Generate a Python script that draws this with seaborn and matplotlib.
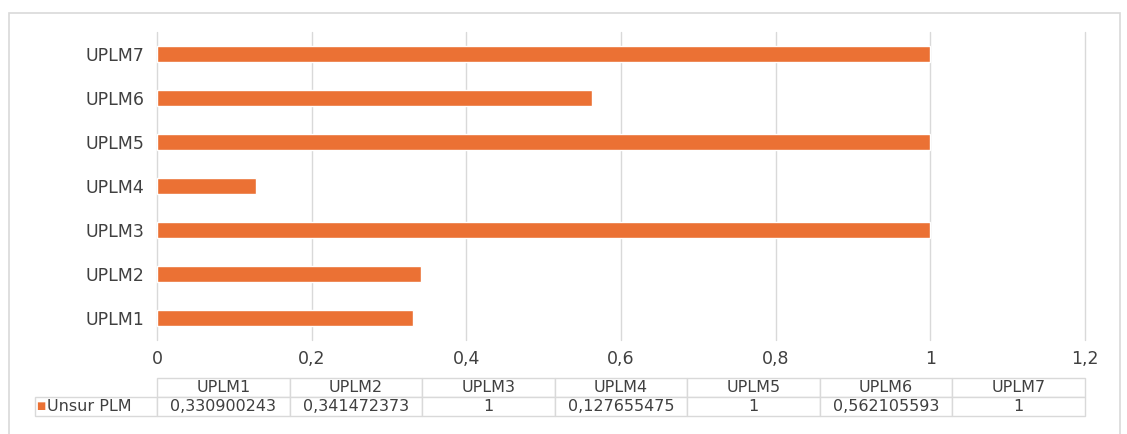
import matplotlib
matplotlib.use("Agg")
import matplotlib.pyplot as plt
from matplotlib.patches import Rectangle
import seaborn as sns
import pandas as pd

categories = ["UPLM1", "UPLM2", "UPLM3", "UPLM4", "UPLM5", "UPLM6", "UPLM7"]
values = [0.330900243, 0.341472373, 1, 0.127655475, 1, 0.562105593, 1]
value_labels = ["0,330900243", "0,341472373", "1", "0,127655475", "1", "0,562105593", "1"]
series_name = "Unsur PLM"
x_ticks = [0, 0.2, 0.4, 0.6, 0.8, 1.0, 1.2]
x_tick_labels = ["0", "0,2", "0,4", "0,6", "0,8", "1", "1,2"]

BAR_COLOR = "#EB7134"
GRID_COLOR = "#d9d9d9"
TEXT_COLOR = "#404040"

sns.set_style("white")
plt.rcParams["font.family"] = ["DejaVu Sans"]

df = pd.DataFrame({"name": categories, "value": values})

fig = plt.figure(figsize=(11.27, 4.34), dpi=100)
ax = fig.add_axes([157 / 1127, 1 - 340 / 434, 928 / 1127, 308 / 434])

sns.barplot(data=df, x="value", y="name", order=categories[::-1],
            orient="h", color=BAR_COLOR, saturation=1, width=0.38, ax=ax)

ax.set_xlim(0, 1.2)
ax.set_xticks(x_ticks)
ax.set_xticklabels(x_tick_labels, fontsize=12.5, color=TEXT_COLOR)
ax.tick_params(axis="y", labelsize=12.5, labelcolor=TEXT_COLOR, length=0, pad=9)
ax.tick_params(axis="x", length=0, pad=7)
ax.set_xlabel("")
ax.set_ylabel("")
ax.grid(axis="x", color=GRID_COLOR, linewidth=1)
ax.set_axisbelow(True)
for line in ax.get_xgridlines():
    line.set_clip_on(False)
for s in ax.spines.values():
    s.set_visible(False)

# data table under the chart
lab_w = 122 / 928
col_w = 1 / 7
tbl = ax.table(cellText=[[series_name] + value_labels],
               colLabels=[""] + categories,
               colWidths=[lab_w] + [col_w] * 7,
               cellLoc="center",
               bbox=[-lab_w, -0.2468, 1 + lab_w, 0.1234])
tbl.auto_set_font_size(False)
tbl.set_fontsize(11.5)
for (r, c), cell in tbl.get_celld().items():
    cell.set_edgecolor(GRID_COLOR)
    cell.set_linewidth(1)
    cell.get_text().set_color(TEXT_COLOR)
    if r == 0 and c == 0:
        cell.visible_edges = ""
    if r == 1 and c == 0:
        cell.get_text().set_ha("left")
        cell.PAD = 0.1
fig.text(36 / 1127, 1 - 406 / 434, "\u25a0", color=BAR_COLOR, fontsize=7,
         va="center", ha="left")

# light outer frame
fig.patches.append(Rectangle((9 / 1127, -0.05), 1111 / 1127, 1 - 13 / 434 + 0.05,
                             transform=fig.transFigure, fill=False,
                             edgecolor="#d9d9d9", linewidth=1.2))

fig.savefig("out.png", dpi=100)
